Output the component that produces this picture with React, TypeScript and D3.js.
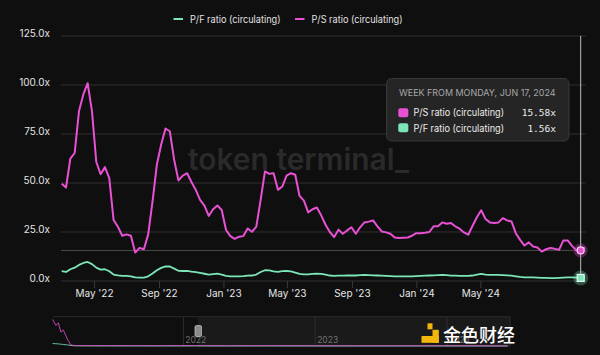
import React from "react";
import * as d3 from "d3";

// ---- data ----
const psRatio = [
  49.6, 47.7, 62.4, 65.3, 86.7, 95.2, 100.9, 86.7, 60.7, 54.5, 58.1, 52.5, 31.1, 27.7, 23.1, 23.8,
  23.1, 14.5, 16.9, 16.2, 23.8, 40.5, 59.3, 69.6, 77.8, 76.4, 61.9, 51.3, 53.8, 55, 50.5, 46.5,
  41.4, 38.5, 33.2, 36.6, 38.5, 36.2, 26, 22.9, 21.5, 22.6, 22.9, 26.8, 25.1, 27.7, 41.4, 55.9,
  54.7, 55, 46.5, 48.2, 53.8, 55, 54.2, 43.4, 41, 35, 36.6, 37.5, 33.5, 28.7, 25, 22.4, 26.2,
  24.1, 25.8, 27.4, 24.1, 27.4, 29.9, 30.3, 30.9, 27.9, 25.3, 24.8, 24.1, 22.2, 21.9, 22.1, 22.2,
  23.1, 24.4, 24.4, 24.6, 25, 27.9, 27.9, 29.9, 29.2, 29.6, 27.9, 26.7, 24.8, 23.6, 28.2, 32.5,
  36.1, 31.6, 29.9, 29.6, 29.9, 32.1, 30.9, 30.4, 24.4, 21, 18.1, 19.7, 17.6, 17.1, 15, 16.2,
  16.8, 16.4, 15.9, 20.7, 20.7, 17.9, 15.6, 15.58, 17.1,
];
const pfRatio = [
  5.0, 4.6, 6.0, 6.8, 8.2, 9.2, 9.7, 8.6, 6.8, 5.8, 6.0, 5.0, 3.3, 2.9, 2.6, 2.6,
  2.4, 1.8, 1.7, 1.7, 2.4, 3.8, 5.5, 6.7, 7.5, 7.4, 6.3, 5.2, 5.1, 5.2, 4.8, 4.5,
  4.1, 3.7, 3.2, 3.5, 3.8, 3.3, 2.6, 2.4, 2.4, 2.4, 2.5, 2.7, 2.8, 3.3, 4.6, 5.5,
  5.4, 4.9, 4.7, 5.0, 5.1, 4.9, 4.3, 3.6, 3.4, 3.4, 3.6, 3.8, 3.6, 3.2, 2.8, 2.6, 2.7,
  2.7, 2.8, 2.9, 2.8, 3.0, 3.1, 3.0, 2.9, 2.8, 2.7, 2.6, 2.5, 2.4, 2.4, 2.4, 2.4,
  2.4, 2.5, 2.6, 2.7, 2.8, 2.9, 3.0, 3.1, 3.0, 2.7, 2.7, 2.6, 2.6, 2.6, 2.8, 3.2,
  3.6, 3.3, 3.1, 3.1, 3.1, 3.0, 2.9, 2.7, 2.4, 2.1, 1.9, 1.9, 1.8, 1.7, 1.6, 1.6,
  1.5, 1.5, 1.6, 1.7, 1.8, 1.9, 1.7, 1.56, 1.9,
];
const hoverIndex = 120;

const yTicks = [0, 25, 50, 75, 100, 125];
const xTickDates = ["2022-05-01", "2022-09-01", "2023-01-01", "2023-05-01", "2023-09-01", "2024-01-01", "2024-05-01"];
const xTickLabels = ["May '22", "Sep '22", "Jan '23", "May '23", "Sep '23", "Jan '24", "May '24"];

// navigator (full history, coarse)
const navDates = [
  "2021-01-04", "2021-01-13", "2021-01-20", "2021-01-27", "2021-02-03", "2021-02-15", "2021-02-24",
  "2021-03-05", "2021-03-25", "2021-05-01", "2021-08-01", "2021-11-01", "2022-02-01", "2022-05-01",
  "2022-09-01", "2023-01-01", "2023-05-01", "2023-09-01", "2024-01-01", "2024-06-17",
];
const navPS = [3800, 2950, 3280, 2000, 2270, 860, 140, 80, 60, 50, 45, 40, 60, 30, 50, 30, 25, 25, 30, 16];
const navPF = [350, 330, 300, 260, 220, 150, 70, 30, 15, 10, 8, 6, 6, 3, 5, 3, 2, 2, 2, 2];
const navYearDates = ["2022-01-01", "2023-01-01", "2024-01-01"];
const navYearLabels = ["2022", "2023", "2024"];

const PINK = "#e951d4";
const GREEN = "#7de6b8";
const FONT = "Inter, 'Noto Sans', sans-serif";

export default function App() {
  const W = 600, H = 355;
  const left = 61.7, right = 585;
  const y = d3.scaleLinear().domain([0, 125]).range([281, 36]);
  const xIdx = d3.scaleLinear().domain([0, psRatio.length - 1]).range([left, right]);
  const xTime = d3.scaleTime().domain([new Date(2022, 1, 28), new Date(2024, 10, 14)]).range([left, right]);

  const line = d3.line<number>().x((_, i) => xIdx(i)).y((d) => y(d)).curve(d3.curveLinear);

  const navX = d3.scaleTime().domain([new Date(2021, 0, 1), new Date(2024, 0, 1)]).range([51.5, 447]);
  const navY = d3.scaleLinear().domain([0, 4000]).range([346, 318]);
  const navLine = d3.line<number>().x((_, i) => navX(new Date(navDates[i] + "T00:00:00"))).y((d) => navY(d));

  const hx = xIdx(hoverIndex);
  const hyPS = y(psRatio[hoverIndex]);
  const hyPF = y(pfRatio[hoverIndex]);

  return (
    <div style={{ position: "fixed", left: 0, top: 0 }}>
      <svg width={W} height={H} style={{ display: "block", fontFamily: FONT }}>
        <rect x={0} y={0} width={W} height={H} fill="#0f0f0f" />

        {/* watermark */}
        <text x={188} y={170} fontSize={30} fontWeight={600} fill="#2a2a2a" textLength={221} lengthAdjust="spacingAndGlyphs">
          token terminal_
        </text>

        {/* grid */}
        {yTicks.map((t) => (
          <g key={t}>
            <line x1={left - 0.7} x2={right + 1} y1={y(t)} y2={y(t)} stroke="#303030" strokeWidth={1} />
            <text x={50} y={y(t) + 1} textAnchor="end" fontSize={10} fill="#e4e4e4">
              {t.toFixed(1)}x
            </text>
          </g>
        ))}

        {/* x ticks */}
        {xTickDates.map((d, i) => {
          const xx = xTime(new Date(d + "T00:00:00"));
          return (
            <g key={d}>
              <line x1={xx} x2={xx} y1={281} y2={288} stroke="#3a3a3a" />
              <text x={xx} y={296.5} textAnchor="middle" fontSize={10} fill="#e4e4e4">
                {xTickLabels[i]}
              </text>
            </g>
          );
        })}

        {/* crosshair */}
        <line x1={left - 0.7} x2={right + 1} y1={hyPS} y2={hyPS} stroke="#4a4a4a" />
        <line x1={hx} x2={hx} y1={36} y2={281} stroke="#bdbdbd" />

        {/* series */}
        <path d={line(pfRatio) || ""} fill="none" stroke={GREEN} strokeWidth={1.8} strokeLinejoin="round" />
        <path d={line(psRatio) || ""} fill="none" stroke={PINK} strokeWidth={2} strokeLinejoin="round" />

        {/* hover markers */}
        <circle cx={hx} cy={hyPS} r={7} fill={PINK} opacity={0.3} />
        <circle cx={hx} cy={hyPS} r={3.5} fill={PINK} stroke="#f6d6f0" strokeWidth={1.2} />
        <circle cx={hx} cy={hyPF} r={7.5} fill={GREEN} opacity={0.3} />
        <rect x={hx - 3.5} y={hyPF - 3.5} width={7} height={7} fill={GREEN} stroke="#e0fbef" strokeWidth={1.2} />

        {/* legend */}
        <line x1={173.5} x2={183} y1={19} y2={19} stroke={GREEN} strokeWidth={2} />
        <text x={190} y={22.5} fontSize={10} fill="#e2e2e2" textLength={90.5} lengthAdjust="spacingAndGlyphs">P/F ratio (circulating)</text>
        <line x1={295} x2={304.5} y1={19} y2={19} stroke={PINK} strokeWidth={2} />
        <text x={311.5} y={22.5} fontSize={10} fill="#e2e2e2" textLength={91} lengthAdjust="spacingAndGlyphs">P/S ratio (circulating)</text>

        {/* tooltip */}
        <rect x={386.5} y={78.5} width={182.5} height={62.5} rx={5} fill="#252525" stroke="#383838" />
        <text x={399} y={95.5} fontSize={9.2} fill="#a8a8a8" textLength={156.5} lengthAdjust="spacingAndGlyphs">WEEK FROM MONDAY, JUN 17, 2024</text>
        <rect x={398.3} y={108.3} width={10} height={9} rx={2} fill={PINK} />
        <text x={413.5} y={116.3} fontSize={10} fill="#ececec" textLength={90.5} lengthAdjust="spacingAndGlyphs">P/S ratio (circulating)</text>
        <text x={556} y={116.3} fontSize={9.5} textAnchor="end" fill="#ececec" fontFamily="'DejaVu Sans Mono', monospace">
          {psRatio[hoverIndex].toFixed(2)}x
        </text>
        <rect x={398.3} y={123.3} width={10} height={9} rx={2} fill={GREEN} />
        <text x={413.5} y={131.5} fontSize={10} fill="#ececec" textLength={90.5} lengthAdjust="spacingAndGlyphs">P/F ratio (circulating)</text>
        <text x={556} y={131.5} fontSize={9.5} textAnchor="end" fill="#ececec" fontFamily="'DejaVu Sans Mono', monospace">
          {pfRatio[hoverIndex].toFixed(2)}x
        </text>

        {/* navigator */}
        <rect x={198} y={316.7} width={312} height={30} fill="#1a1a1a" />
        <line x1={53} x2={510} y1={316.7} y2={316.7} stroke="#2c2c2c" />
        <line x1={510} x2={510} y1={316.7} y2={346.5} stroke="#2c2c2c" />
        {navYearDates.map((d, i) => {
          const xx = navX(new Date(d + "T00:00:00"));
          return (
            <g key={d}>
              <line x1={xx} x2={xx} y1={316.7} y2={346.5} stroke="#2e2e2e" />
              <text x={xx + 2} y={343} fontSize={8.5} fill="#707070">{navYearLabels[i]}</text>
            </g>
          );
        })}
        <path d={navLine(navPF) || ""} fill="none" stroke={GREEN} strokeWidth={1} opacity={0.8} />
        <path d={navLine(navPS) || ""} fill="none" stroke={PINK} strokeWidth={1} opacity={0.8} />
        <rect x={195} y={325.5} width={6.5} height={11} rx={1.5} fill="#8a8a8a" stroke="#bbbbbb" strokeWidth={0.8} />

        {/* 金色财经 watermark */}
        <rect x={427.5} y={323.3} width={5} height={6} fill="#f3b60c" />
        <rect x={421.5} y={336} width={17.3} height={6.8} fill="#f3b60c" />
        <rect x={432.5} y={329.8} width={6.3} height={13} fill="#f3b60c" />
        <text x={443} y={342} fontSize={18} fontWeight={500} fill="#ffffff" fontFamily="'Noto Sans CJK SC', sans-serif">
          金色财经
        </text>
      </svg>
    </div>
  );
}
